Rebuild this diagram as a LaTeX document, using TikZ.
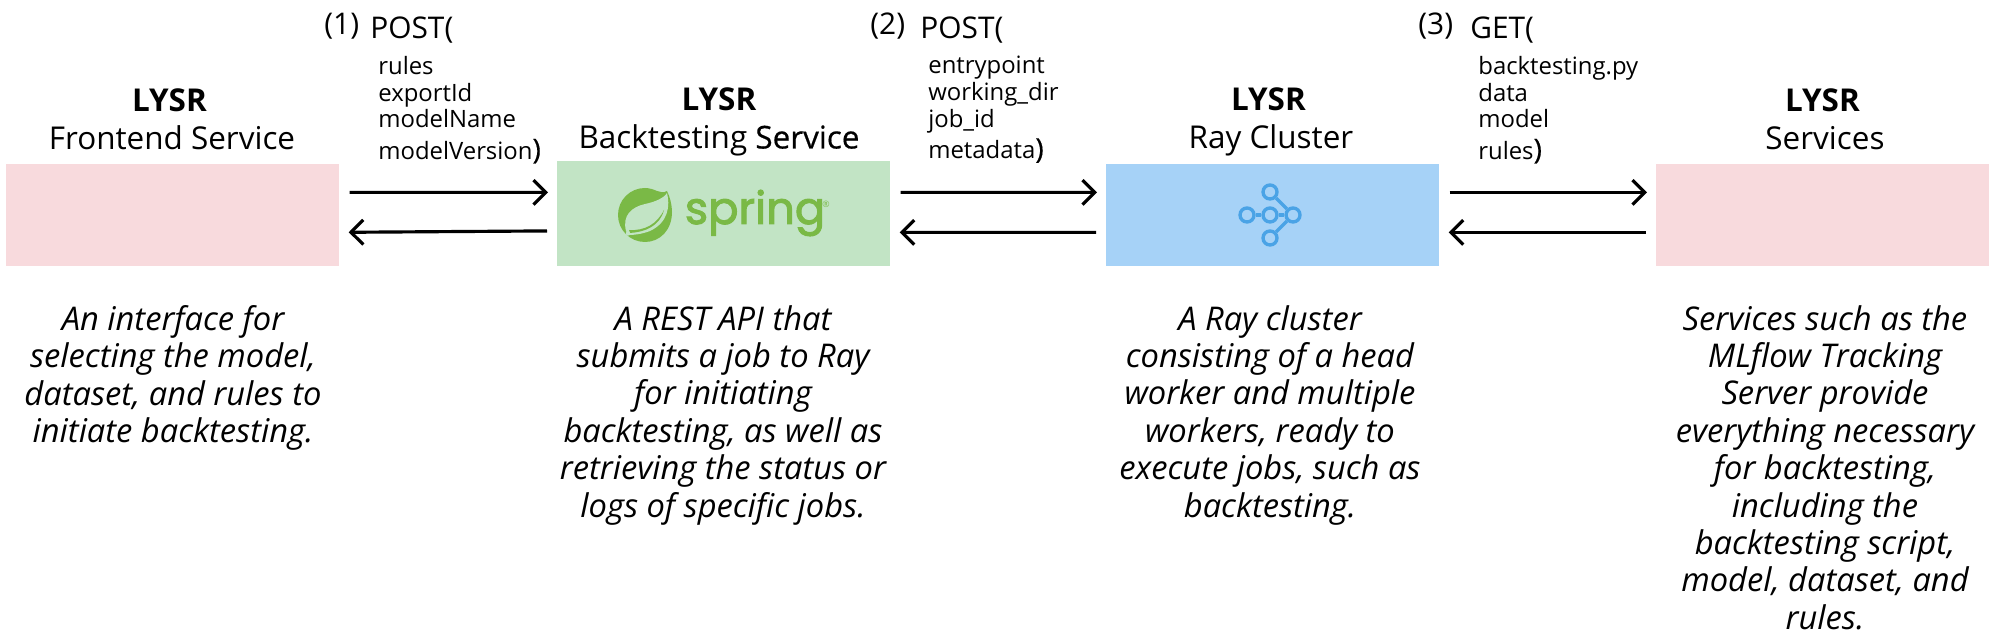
\documentclass[tikz,border=0pt]{standalone}
\usepackage{fontspec}
\setmainfont{Open Sans}
\newfontfamily\springfont[FakeBold=2.2]{Poppins}
\newfontfamily\midfont[FakeBold=0.5]{Open Sans}
\usetikzlibrary{arrows.meta,positioning}

\definecolor{boxpink}{HTML}{F8DADD}
\definecolor{boxgreen}{HTML}{C2E4C5}
\definecolor{boxblue}{HTML}{A6D2F7}
\definecolor{leafgreen}{HTML}{7AB946}
\definecolor{rayblue}{HTML}{4AA3E6}

\newlength{\pxu}
\setlength{\pxu}{0.5692pt}
\newcommand{\lysr}{\textbf{LYSR}\kern5\pxu}
\newcommand{\closeparen}{{\fontsize{16}{15}\selectfont\midfont)}}

\tikzset{
  servicebox/.style={anchor=north west,inner sep=0pt,minimum height=102\pxu,minimum width=333\pxu},
  titletext/.style={align=center,font=\fontsize{17.9}{21.5}\selectfont},
  desctext/.style={align=center,font=\fontsize{18.6}{21.3}\selectfont\itshape,anchor=north},
  calltext/.style={anchor=west,inner sep=0pt,font=\fontsize{17}{20}\selectfont},
  argtext/.style={anchor=north west,inner sep=0pt,align=left,font=\fontsize{13.6}{15.2}\selectfont},
  flow/.style={line width=1.8pt,-{Straight Barb[length=7pt,width=14pt,line width=1.8pt]},shorten >=9\pxu,shorten <=10\pxu},
  raylink/.style={draw=rayblue,line width=1.9pt},
  raynode/.style={circle,draw=rayblue,line width=1.9pt,inner sep=0pt,minimum size=14\pxu},
}

\begin{document}
\begin{tikzpicture}[x=0.02cm,y=-0.02cm]
	\useasboundingbox (0,0) rectangle (1996,638);
	% boxes
	\node [servicebox,fill=boxpink] (front) at (6,164) {};
	\node [servicebox,fill=boxgreen,minimum height=105\pxu] (spring) at (557,161) {};
	\node [servicebox,fill=boxblue] (ray) at (1106,164) {};
	\node [servicebox,fill=boxpink] (serv) at (1656,164) {};
	% titles
	\node [titletext] (t0) at (172,119) {\lysr\\Frontend Service};
	\node [titletext] (t1) at (719,122) {\textbf{LYSR}\\Backtesting {\midfont Service}};
	\node [titletext] (t2) at (1271,122) {\lysr\\Ray Cluster};
	\node [titletext] (t3) at (1825,119) {\lysr\\Services};
	% descriptions
	\node [desctext] (d0) at (173,299) {An interface for\\selecting the model,\\dataset, and rules to\\initiate backtesting.};
	\node [desctext] (d1) at (723,299) {A REST API that\\submits a job to Ray\\for initiating\\backtesting, as well as\\retrieving the status or\\logs of specific jobs.};
	\node [desctext] (d2) at (1270,299) {A Ray cluster\\consisting of a head\\worker and multiple\\workers, ready to\\execute jobs, such as\\backtesting.};
	\node [desctext] (d3) at (1825,299) {Services such as the\\MLflow Tracking\\Server provide\\everything necessary\\for backtesting,\\including the\\backtesting script,\\model, dataset, and\\rules.};
	% calls
	\node [calltext] (n1) at (324,26) {(1)};
	\node [calltext] (c1) at (370,30) {POST(};
	\node [argtext] (a1) at (378,56) {rules\\exportId\\modelName\\[2.5pt]modelVersion\closeparen};
	\node [calltext] (n2) at (870,26) {(2)};
	\node [calltext] (c2) at (920,30) {POST(};
	\node [argtext] (a2) at (928,56) {entrypoint\\working\_dir\\job\_id\\[2.5pt]metadata\closeparen};
	\node [calltext] (n3) at (1418,26) {(3)};
	\node [calltext] (c3) at (1470,30) {GET(};
	\node [argtext] (a3) at (1478,56) {backtesting.py\\data\\model\\[2.5pt]rules\closeparen};
	% arrows
	\draw [flow] ([yshift=23\pxu]front.east) -- ([yshift=21.5\pxu]spring.west);
	\draw [flow] ([yshift=-17\pxu]spring.west) -- ([yshift=-17\pxu]front.east);
	\draw [flow] ([yshift=21.5\pxu]spring.east) -- ([yshift=23\pxu]ray.west);
	\draw [flow] ([yshift=-17\pxu]ray.west) -- ([yshift=-18.5\pxu]spring.east);
	\draw [flow] ([yshift=23\pxu]ray.east) -- ([yshift=23\pxu]serv.west);
	\draw [flow] ([yshift=-17\pxu]serv.west) -- ([yshift=-17\pxu]ray.east);
	% spring logo
	\fill [leafgreen] (667,191) .. controls (660,195) and (655,188) .. (645,188) .. controls (630,188) and (618,200) .. (618,215) .. controls (618,230) and (630,242) .. (645,242) .. controls (660,242) and (672,230) .. (672,212) .. controls (672,205) and (670,197) .. (667,191);
	\fill [boxgreen] (626,231) .. controls (622,215) and (632,207) .. (645,204) .. controls (655,202) and (664,198) .. (667,193) .. controls (670,205) and (669,222) .. (650,231) .. controls (642,234) and (635,235) .. (628,235);
	\fill [leafgreen] (629,230) .. controls (645,231) and (657,224) .. (664,210) .. controls (660,226) and (645,232) .. (630,233);
	\fill [boxgreen] (628,233.5) circle [radius=2.2];
	\node [text=leafgreen,font=\fontsize{25.5}{25}\selectfont\springfont] (sp) at (755,213) {spring};
	\node [text=leafgreen,font=\fontsize{5}{5}\selectfont] (spr) at (826,204) {®};
	% ray logo
	\node [raynode] (r0) at (1270,192) {};
	\node [raynode] (r1) at (1247,215) {};
	\node [raynode] (r2) at (1270,215) {};
	\node [raynode] (r3) at (1293,215) {};
	\node [raynode] (r4) at (1270,238) {};
	\draw [raylink] (r1) -- (r2);
	\draw [raylink] (r2) -- (r3);
	\draw [raylink] (r0) -- (r3);
	\draw [raylink] (r4) -- (r3);
\end{tikzpicture}
\end{document}
